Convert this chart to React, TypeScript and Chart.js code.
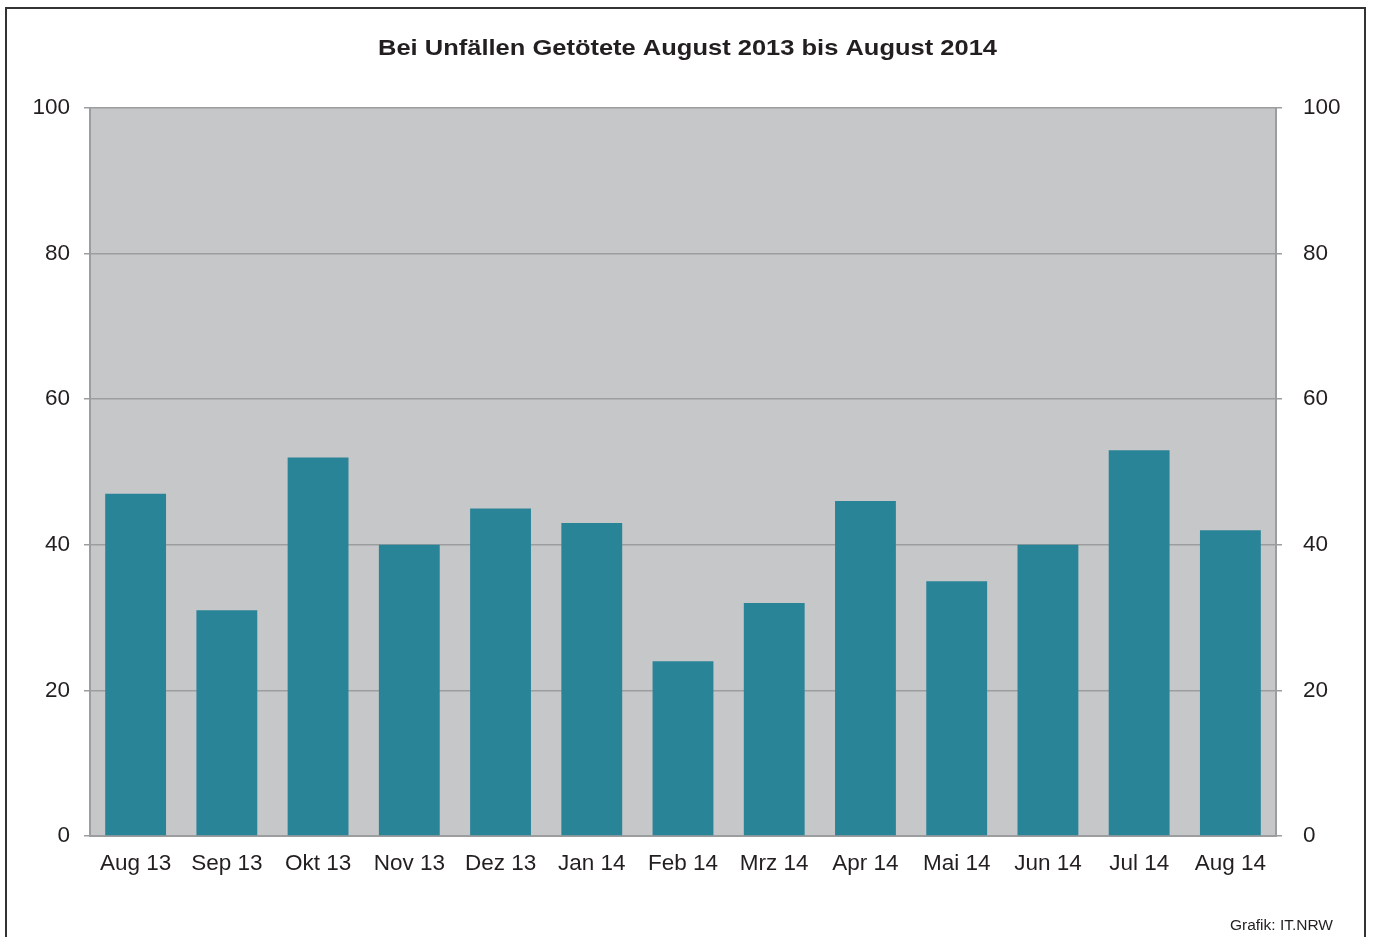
import React, { useEffect, useRef } from "react";
import { Chart, registerables } from "chart.js";

Chart.register(...registerables);

const categories = ["Aug 13", "Sep 13", "Okt 13", "Nov 13", "Dez 13", "Jan 14", "Feb 14", "Mrz 14", "Apr 14", "Mai 14", "Jun 14", "Jul 14", "Aug 14"];
const killed = [47, 31, 52, 40, 45, 43, 24, 32, 46, 35, 40, 53, 42];
const yMin = 0;
const yMax = 100;
const yStep = 20;
const titleText = "Bei Unfällen Getötete August 2013 bis August 2014";
const sourceText = "Grafik: IT.NRW";

const W = 1373;
const H = 937;
const FONT = "'Liberation Sans', Arial, Helvetica, sans-serif";
const TEXT = "#231f20";
const GRID = "#9c9d9f";
const PLOT_BG = "#c6c7c9";
const BAR = "#2a8498";

const decorPlugin = {
  id: "decor",
  beforeDraw(chart: any) {
    const { ctx, chartArea } = chart;
    ctx.save();
    ctx.fillStyle = "#ffffff";
    ctx.fillRect(0, 0, W, H);
    ctx.fillStyle = PLOT_BG;
    ctx.fillRect(chartArea.left, chartArea.top, chartArea.right - chartArea.left, chartArea.bottom - chartArea.top);
    // outer frame
    ctx.strokeStyle = "#333333";
    ctx.lineWidth = 2;
    ctx.beginPath();
    ctx.moveTo(6, H + 5);
    ctx.lineTo(6, 8);
    ctx.lineTo(1365, 8);
    ctx.lineTo(1365, H + 5);
    ctx.stroke();
    ctx.restore();
  },
  afterDraw(chart: any) {
    const { ctx } = chart;
    ctx.save();
    ctx.fillStyle = TEXT;
    // title, horizontally stretched to the reference width
    ctx.font = `bold 22.5px ${FONT}`;
    ctx.textBaseline = "alphabetic";
    ctx.textAlign = "center";
    const natural = ctx.measureText(titleText).width;
    const target = 619;
    const sx = target / natural;
    ctx.translate(687.5, 54.5);
    ctx.scale(sx, 1);
    ctx.fillText(titleText, 0, 0);
    ctx.setTransform(1, 0, 0, 1, 0, 0);
    // source
    ctx.font = `15.5px ${FONT}`;
    ctx.textAlign = "right";
    ctx.fillText(sourceText, 1333, 930);
    ctx.restore();
  },
};

export default function App() {
  const ref = useRef<HTMLCanvasElement | null>(null);
  useEffect(() => {
    if (!ref.current) return;
    const chart = new Chart(ref.current, {
      type: "bar",
      data: {
        labels: categories,
        datasets: [
          {
            data: killed,
            backgroundColor: BAR,
            borderWidth: 0,
            categoryPercentage: 1,
            barPercentage: 0.667,
            yAxisID: "y",
          },
        ],
      },
      options: {
        responsive: false,
        animation: false,
        devicePixelRatio: 1,
        layout: { padding: { top: 108, left: 0, right: 0, bottom: 0 } },
        plugins: {
          legend: { display: false },
          title: { display: false },
          tooltip: { enabled: false },
        },
        scales: {
          x: {
            grid: { display: false },
            border: { display: true, color: GRID, width: 2 },
            ticks: {
              color: TEXT,
              font: { family: FONT, size: 22.5 },
              padding: 6,
              maxRotation: 0,
              autoSkip: false,
            },
            afterFit(scale: any) {
              scale.height = 101;
            },
          },
          y: {
            position: "left",
            min: yMin,
            max: yMax,
            grid: { color: GRID, lineWidth: 1.5, tickLength: 6, drawTicks: true },
            border: { display: true, color: GRID, width: 2 },
            ticks: {
              stepSize: yStep,
              color: TEXT,
              font: { family: FONT, size: 22.5 },
              padding: 14,
            },
            afterFit(scale: any) {
              scale.width = 90;
            },
          },
          y2: {
            position: "right",
            min: yMin,
            max: yMax,
            grid: { drawOnChartArea: false, color: GRID, lineWidth: 1.5, tickLength: 6, drawTicks: true },
            border: { display: true, color: GRID, width: 2 },
            ticks: {
              stepSize: yStep,
              color: TEXT,
              font: { family: FONT, size: 22.5 },
              padding: 21,
            },
            afterFit(scale: any) {
              scale.width = W - 1276;
            },
          },
        },
      },
      plugins: [decorPlugin],
    } as any);
    return () => chart.destroy();
  }, []);
  return (
    <div style={{ position: "absolute", left: 0, top: 0, width: W, height: H, background: "#fff" }}>
      <canvas ref={ref} width={W} height={H} style={{ display: "block" }} />
    </div>
  );
}
